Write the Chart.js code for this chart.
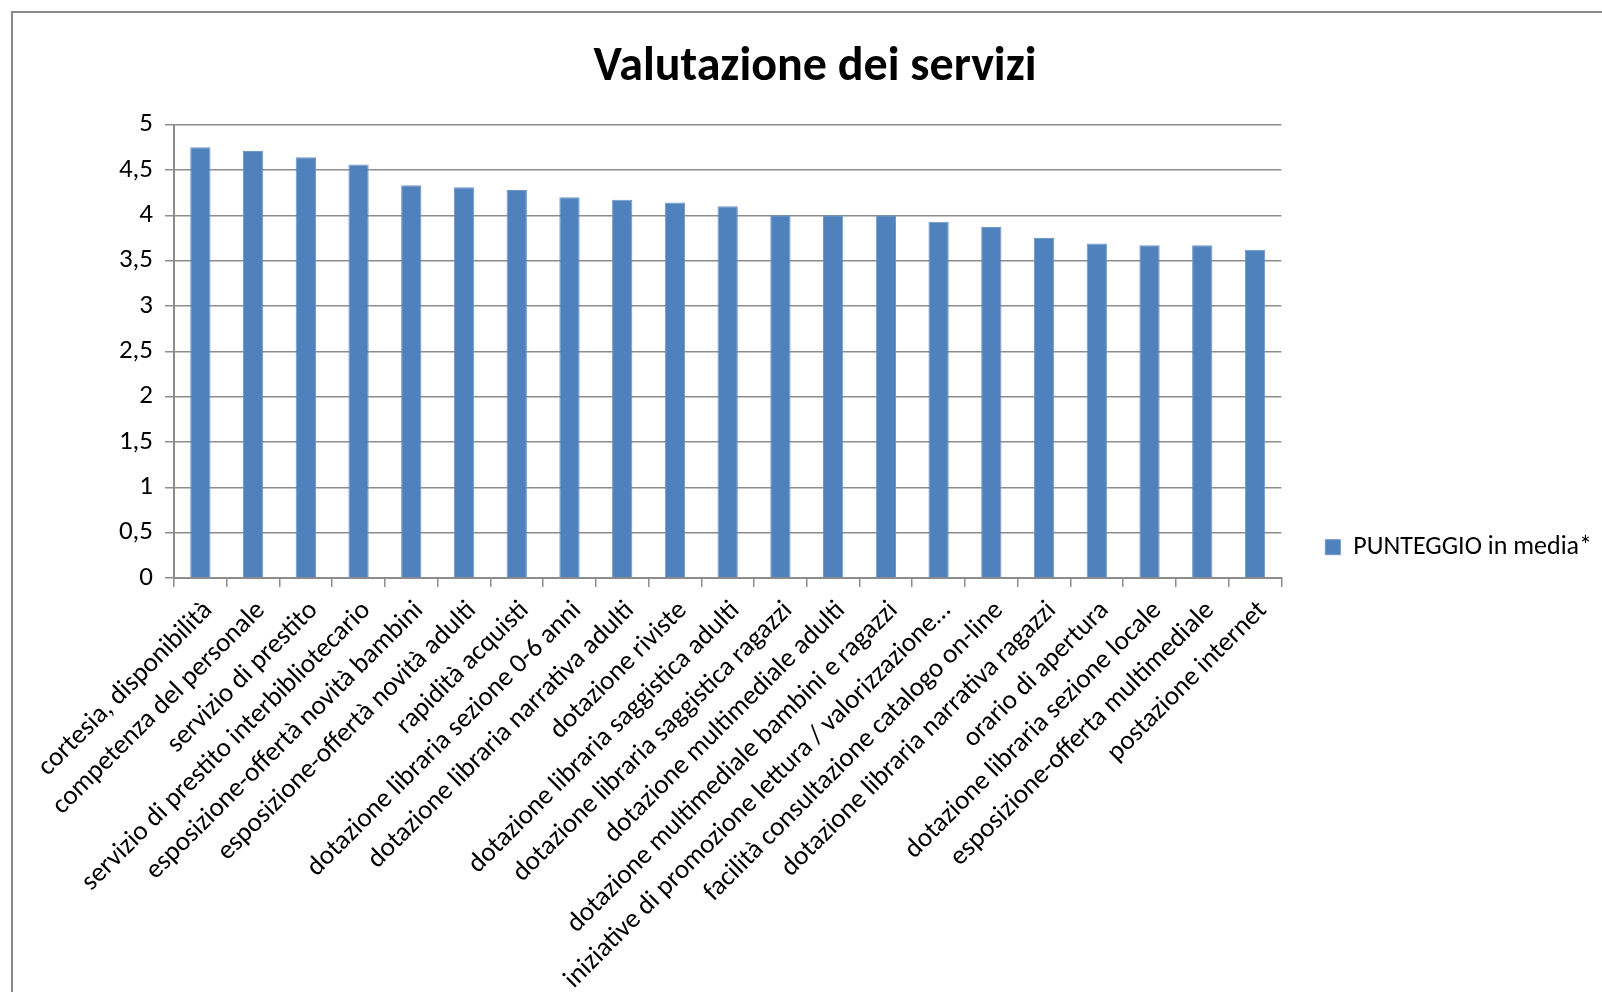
<!DOCTYPE html>
<html>
<head>
<meta charset="utf-8">
<script src="https://cdn.jsdelivr.net/npm/chart.js@4.4.1/dist/chart.umd.min.js"></script>
<style>
  body { margin: 0; background: #fff; overflow: hidden; }
  #frame { position: absolute; left: 11px; top: 11px; width: 1700px; height: 1100px; border: 2px solid #8a8a8a; }
  #c { position: absolute; left: 0; top: 0; }
</style>
</head>
<body>
<div id="frame"></div>
<canvas id="c" width="1602" height="992"></canvas>
<script>
// servizi valutati
const categories = [
  "cortesia, disponibilità",
  "competenza del personale",
  "servizio di prestito",
  "servizio di prestito interbibliotecario",
  "esposizione-offertà novità bambini",
  "esposizione-offertà novità adulti",
  "rapidità acquisti",
  "dotazione libraria sezione 0-6 anni",
  "dotazione libraria narrativa adulti",
  "dotazione riviste",
  "dotazione libraria saggistica adulti",
  "dotazione libraria saggistica ragazzi",
  "dotazione multimediale adulti",
  "dotazione multimediale bambini e ragazzi",
  "iniziative di promozione lettura / valorizzazione…",
  "facilità consultazione catalogo on-line",
  "dotazione libraria narrativa ragazzi",
  "orario di apertura",
  "dotazione libraria sezione locale",
  "esposizione-offerta multimediale",
  "postazione internet"
];

// punteggio medio (scala 0-5)
const scores = [
  4.75, 4.71, 4.64, 4.56, 4.33, 4.31, 4.28, 4.20, 4.17, 4.14,
  4.10, 4.00, 4.00, 4.00, 3.93, 3.87, 3.75, 3.69, 3.67, 3.67, 3.62
];

const seriesLabel = "PUNTEGGIO in media*";
const chartTitle = "Valutazione dei servizi";

const fontFamily = "Carlito, Calibri, Lato, sans-serif";
const gridGray = "#8c8c8c";

new Chart(document.getElementById("c"), {
  type: "bar",
  data: {
    labels: categories,
    datasets: [{
      label: seriesLabel,
      data: scores,
      backgroundColor: "#4f81bd",
      borderColor: "#6f97c9",
      borderWidth: 1,
      categoryPercentage: 1,
      barPercentage: 0.385
    }]
  },
  options: {
    responsive: false,
    animation: false,
    layout: {
      padding: { left: 28, right: 0, top: 0, bottom: 0 }
    },
    plugins: {
      title: {
        display: true,
        text: chartTitle,
        color: "#000",
        font: { family: fontFamily, size: 48, weight: "bold" },
        padding: { top: 39, bottom: 28 }
      },
      legend: {
        position: "right",
        title: { display: true, text: "", padding: { top: 88 } },
        labels: {
          color: "#000",
          font: { family: fontFamily, size: 26 },
          boxWidth: 15,
          boxHeight: 15,
          padding: 44
        }
      },
      tooltip: { enabled: false }
    },
    scales: {
      x: {
        afterFit: (s) => { s.height = 414; },
        grid: {
          display: true,
          drawOnChartArea: false,
          drawTicks: true,
          tickLength: 9,
          color: gridGray,
          lineWidth: 1.5
        },
        border: { color: gridGray, width: 2 },
        ticks: {
          color: "#000",
          autoSkip: false,
          minRotation: 45,
          maxRotation: 45,
          padding: 8,
          labelOffset: 8,
          font: { family: fontFamily, size: 27 }
        }
      },
      y: {
        min: 0,
        max: 5,
        afterFit: (s) => { s.width = 146; },
        grid: {
          color: gridGray,
          lineWidth: 1.5,
          tickLength: 9
        },
        border: { color: gridGray, width: 2 },
        ticks: {
          stepSize: 0.5,
          color: "#000",
          padding: 12,
          font: { family: fontFamily, size: 27 },
          callback: (v) => String(v).replace(".", ",")
        }
      }
    }
  }
});
</script>
</body>
</html>
